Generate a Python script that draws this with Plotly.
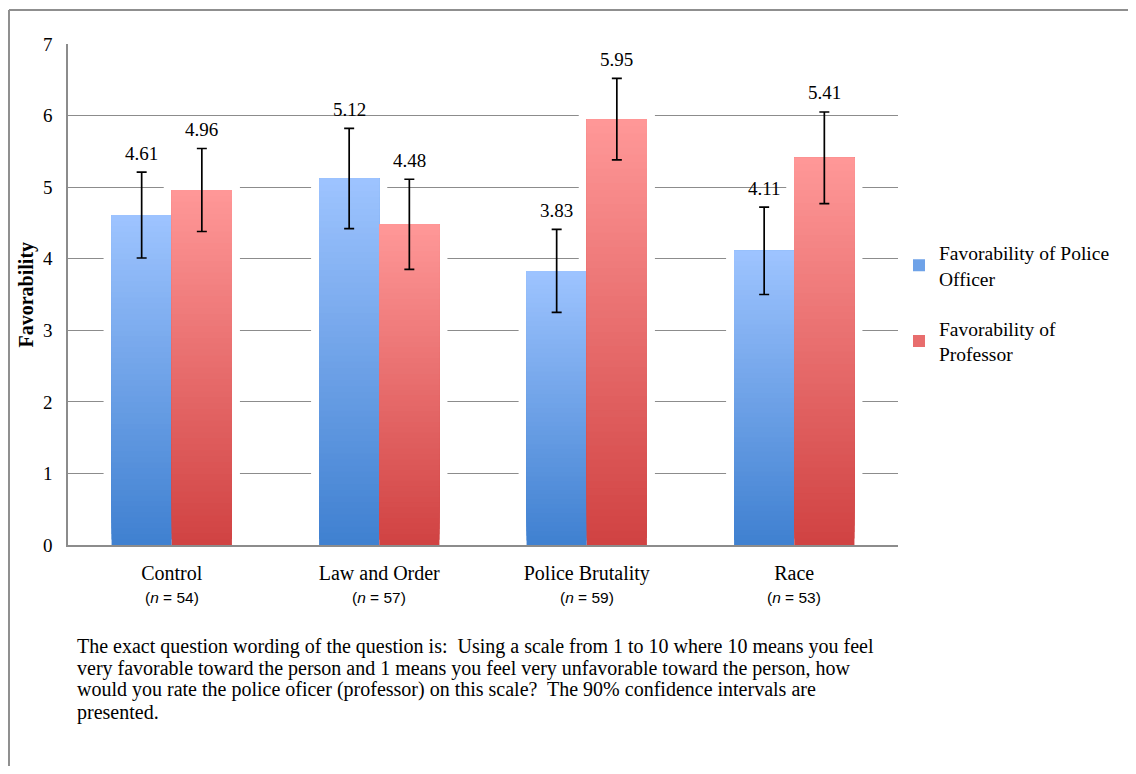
import plotly.graph_objects as go

# ---------------- data ----------------
categories = ["Control", "Law and Order", "Police Brutality", "Race"]
sample_sizes = [54, 57, 59, 53]
police_values = [4.61, 5.12, 3.83, 4.11]
police_ci = [0.60, 0.70, 0.58, 0.61]
professor_values = [4.96, 4.48, 5.95, 5.41]
professor_ci = [0.58, 0.63, 0.57, 0.64]
series_names = ["Favorability of Police<br>Officer", "Favorability of<br>Professor"]
y_tick_values = [0, 1, 2, 3, 4, 5, 6, 7]
caption_lines = [
    "The exact question wording of the question is:&nbsp; Using a scale from 1 to 10 where 10 means you feel",
    "very favorable toward the person and 1 means you feel very unfavorable toward the person, how",
    "would you rate the police oficer (professor) on this scale?&nbsp; The 90% confidence intervals are",
    "presented.",
]

# ---------------- style ----------------
SERIF = "Liberation Serif, Times New Roman, serif"
SANS = "Liberation Sans, Arial, sans-serif"
BAR_W = 0.29
PLOT_W, PLOT_H = 830, 501
blue_bottom, blue_top = (63, 128, 208), (158, 196, 255)
red_bottom, red_top = (208, 66, 66), (255, 152, 152)
N_SLICES = 60
GRID = "#8c8c8c"


def mix(c0, c1, t):
    return "rgb(%d,%d,%d)" % tuple(round(a + (b - a) * t) for a, b in zip(c0, c1))


series = [
    (police_values, police_ci, -BAR_W, blue_bottom, blue_top, series_names[0]),
    (professor_values, professor_ci, 0.0, red_bottom, red_top, series_names[1]),
]

fig = go.Figure()

# white halo behind bars (hides gridlines around the bars like the original's shadow)
for vals, ci, off, c0, c1, name in series:
    fig.add_trace(go.Bar(
        x=categories, y=vals, width=BAR_W, offset=off,
        marker=dict(color="white", line=dict(color="white", width=16)),
        showlegend=False, hoverinfo="skip"))

# gradient-filled bars built from stacked slices
for vals, ci, off, c0, c1, name in series:
    xs, bases, ys, cols = [], [], [], []
    for k in range(N_SLICES):
        t = k / N_SLICES
        for cat, v in zip(categories, vals):
            xs.append(cat)
            bases.append(v * t)
            ys.append(v * (1 - t))
            cols.append(mix(c0, c1, (k + 0.5) / N_SLICES))
    fig.add_trace(go.Bar(
        x=xs, y=ys, base=bases, width=BAR_W, offset=off,
        marker=dict(color=cols, line=dict(width=0)),
        showlegend=False, hoverinfo="skip"))

# transparent bars carrying the confidence intervals
for vals, ci, off, c0, c1, name in series:
    fig.add_trace(go.Bar(
        x=categories, y=vals, width=BAR_W, offset=off,
        marker=dict(color="rgba(0,0,0,0)", line=dict(width=0)),
        error_y=dict(type="data", array=ci, visible=True, color="black",
                     thickness=1.7, width=5),
        showlegend=False, hoverinfo="skip"))

# legend entries
for i, (vals, ci, off, c0, c1, name) in enumerate(series):
    fig.add_trace(go.Bar(
        x=[categories[0]], y=[None], name=name, legendgroup="g%d" % i,
        marker=dict(color=mix(c0, c1, 0.5), line=dict(width=0))))

# value labels above the error bars
cat_px = PLOT_W / len(categories)
for vals, ci, off, c0, c1, name in series:
    for cat, v, e in zip(categories, vals, ci):
        fig.add_annotation(
            x=cat, y=v + e, xref="x", yref="y", text="%.2f" % v,
            showarrow=False, yanchor="middle", yshift=19,
            xshift=(off + BAR_W / 2) * cat_px,
            font=dict(family=SERIF, size=19, color="black"))

# sample sizes under category labels
for cat, n in zip(categories, sample_sizes):
    fig.add_annotation(
        x=cat, xref="x", y=-0.104, yref="paper",
        text="(<i>n</i> = %d)" % n, showarrow=False,
        yanchor="middle", font=dict(family=SANS, size=15.5, color="black"))

# y axis title
fig.add_annotation(
    x=-0.0494, xref="paper", y=0.5, yref="paper", text="<b>Favorability</b>",
    textangle=-90, showarrow=False, xanchor="center", yanchor="middle",
    font=dict(family=SERIF, size=20, color="black"))

# caption, one annotation per line (22 px line pitch)
for i, line in enumerate(caption_lines):
    fig.add_annotation(
        x=0.0084, xref="paper", y=(537 - (638 + 22 * i) - 36 + 36) / PLOT_H, yref="paper",
        text=line, showarrow=False, xanchor="left", yanchor="middle", align="left",
        font=dict(family=SERIF, size=20, color="black"))

# outer frame (left and top edges)
fig.add_shape(type="line", xref="paper", yref="paper",
              x0=-0.0711, x1=-0.0711, y0=-0.5, y1=1.0679,
              line=dict(color="#8f8f8f", width=2))
fig.add_shape(type="line", xref="paper", yref="paper",
              x0=-0.0711, x1=1.3, y0=1.0679, y1=1.0679,
              line=dict(color="#8f8f8f", width=2))

fig.update_layout(
    width=1128, height=758,
    margin=dict(l=60, r=238, t=36, b=221),
    barmode="overlay",
    plot_bgcolor="white", paper_bgcolor="white",
    font=dict(family=SERIF, size=20, color="black"),
    showlegend=True,
    legend=dict(x=1.0012, xanchor="left", y=0.482, yanchor="middle",
                font=dict(family=SERIF, size=19.5, color="black"),
                tracegroupgap=22, itemwidth=30, bgcolor="rgba(0,0,0,0)"),
    xaxis=dict(categoryorder="array", categoryarray=categories,
               showgrid=False, showline=True, linecolor=GRID, linewidth=1.5,
               ticks="", ticklabelstandoff=9,
               tickfont=dict(family=SERIF, size=20, color="black"),
               fixedrange=True),
    yaxis=dict(range=[0, 7], tickvals=y_tick_values,
               showgrid=True, gridcolor=GRID, gridwidth=1.3,
               showline=True, linecolor=GRID, linewidth=1.5,
               zeroline=False, ticks="", ticklabelstandoff=10,
               tickfont=dict(family=SERIF, size=19, color="black"),
               fixedrange=True),
)

fig.write_html("out.html")
